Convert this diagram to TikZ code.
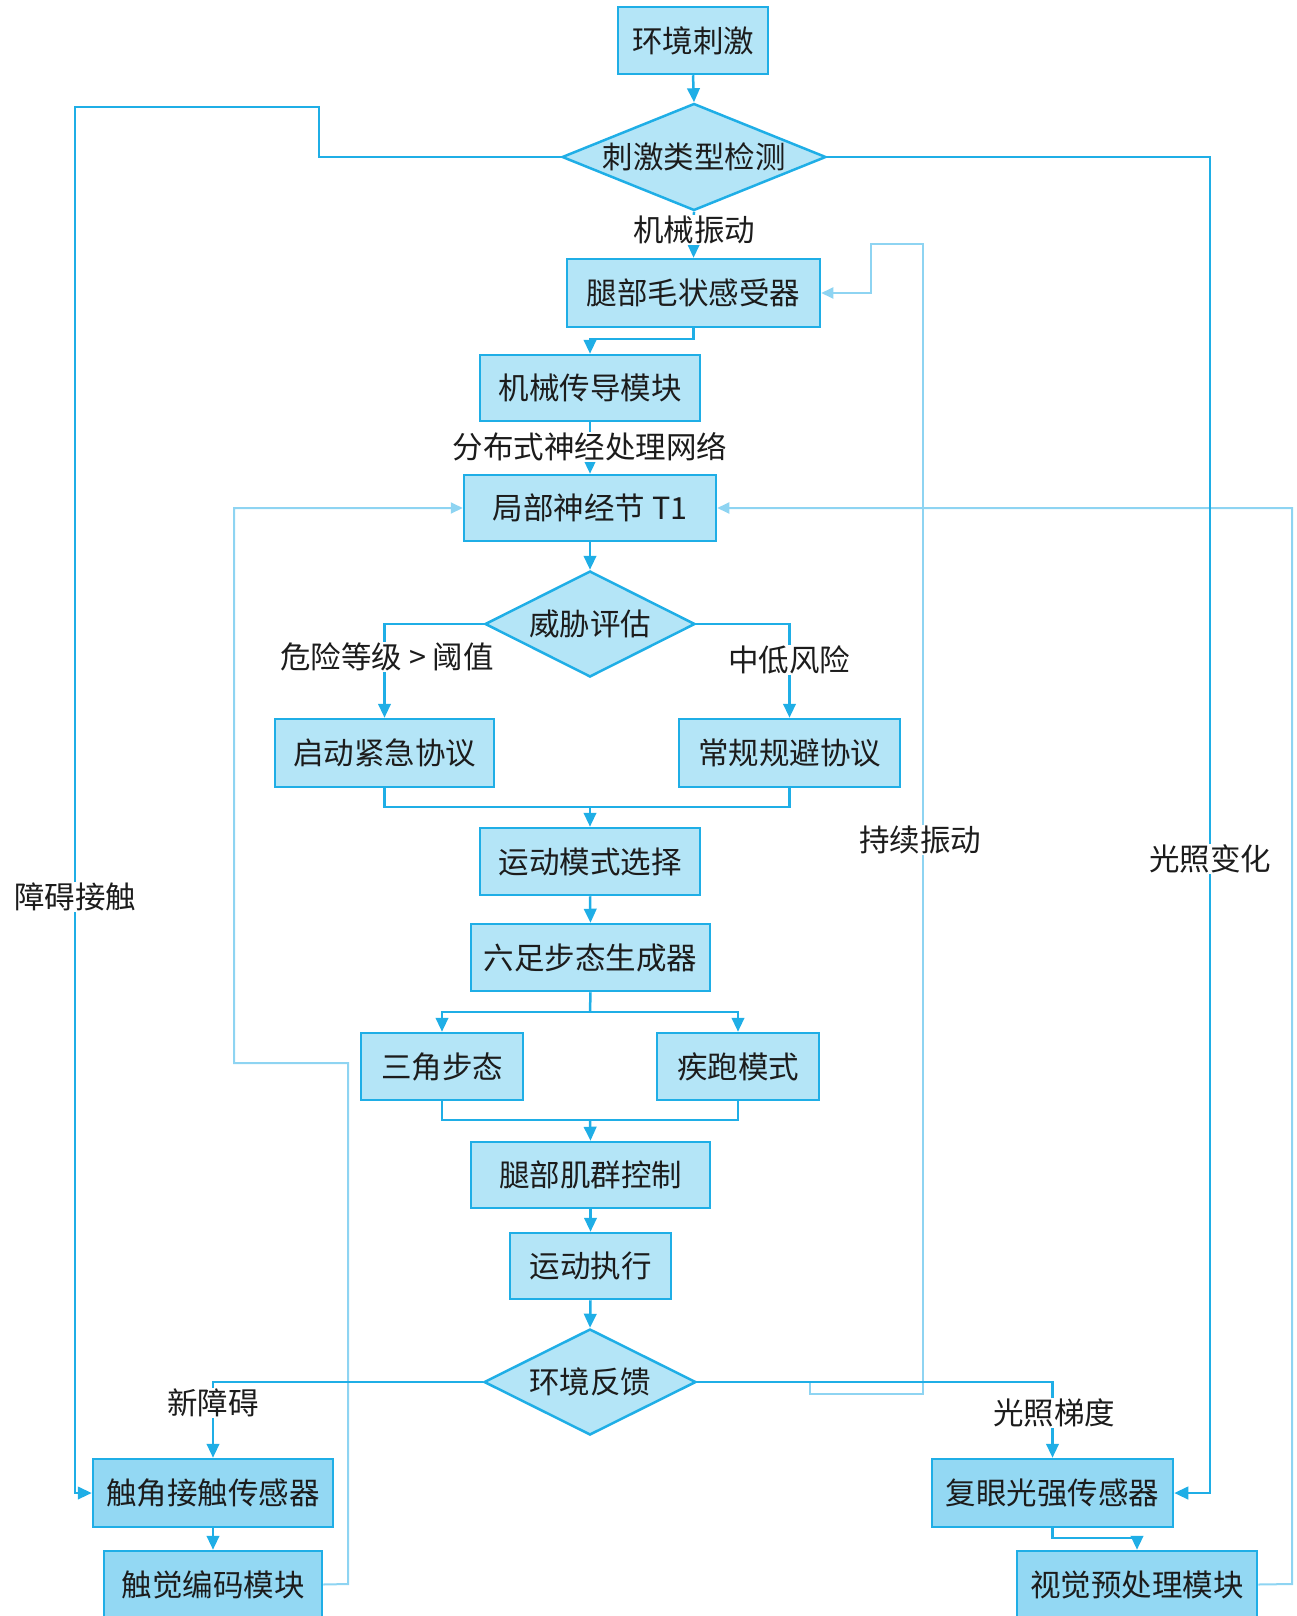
\documentclass[tikz,border=0pt]{standalone}
\usepackage{fontspec}
\setmainfont{Noto Sans CJK SC}
\usetikzlibrary{shapes.geometric,arrows.meta}
\definecolor{edge}{HTML}{1FAEE6}
\definecolor{boxfill}{HTML}{B4E5F7}
\definecolor{boxfilldeep}{HTML}{93D8F3}
\definecolor{thinline}{HTML}{8ED4F2}
\definecolor{ink}{HTML}{1C1C1C}

\begin{document}
\begin{tikzpicture}[x=1pt,y=-1pt,
  every node/.style={font=\fontsize{30.5}{36}\selectfont, text=ink},
  box/.style={rectangle, draw=edge, line width=2.5pt, fill=boxfill, inner sep=0pt, minimum height=67pt},
  deepbox/.style={box, fill=boxfilldeep},
  decision/.style={diamond, draw=edge, line width=2.5pt, fill=boxfill, inner sep=0pt},
  flow/.style={draw=edge, line width=2.5pt, -{Triangle[length=14pt,width=12.5pt]}},
  link/.style={draw=edge, line width=2.5pt},
  loop/.style={draw=thinline, line width=2pt, -{Triangle[length=12pt,width=11pt]}},
  tag/.style={fill=white, inner sep=1pt}
]
\useasboundingbox (0,0) rectangle (1296,1616);

% main chain
\node[box, minimum width=150pt] (env) at (693,40.5) {环境刺激};
\node[decision, shape aspect=2.47, minimum width=264pt, minimum height=107pt] (detect) at (694,157) {刺激类型检测};
\node[box, minimum width=253pt, minimum height=68pt] (hair) at (693.5,293) {腿部毛状感受器};
\node[box, minimum width=220pt, minimum height=66pt] (mech) at (590,388) {机械传导模块};
\node[box, minimum width=252pt, minimum height=66pt] (t1) at (590,508) {局部神经节 T1};
\node[decision, shape aspect=1.98, minimum width=210pt, minimum height=106pt] (threat) at (590,624) {威胁评估};
\node[box, minimum width=219pt, minimum height=68pt] (emerg) at (384.5,753) {启动紧急协议};
\node[box, minimum width=221pt, minimum height=68pt] (routine) at (789.5,753) {常规规避协议};
\node[box, minimum width=220pt] (modesel) at (590,861.5) {运动模式选择};
\node[box, minimum width=239pt] (hexgen) at (590.5,957.5) {六足步态生成器};
\node[box, minimum width=162pt] (tri) at (442,1066.5) {三角步态};
\node[box, minimum width=162pt] (sprint) at (738,1066.5) {疾跑模式};
\node[box, minimum width=239pt, minimum height=66pt] (muscle) at (590.5,1175) {腿部肌群控制};
\node[box, minimum width=161pt, minimum height=66pt] (exec) at (590.5,1266) {运动执行};
\node[decision, shape aspect=1.98, minimum width=212pt, minimum height=106pt] (feedback) at (590,1382) {环境反馈};

% sensor modules at the bottom
\node[deepbox, minimum width=240pt, minimum height=68pt] (antenna) at (213,1493) {触角接触传感器};
\node[deepbox, minimum width=218pt] (tactile) at (213,1584.5) {触觉编码模块};
\node[deepbox, minimum width=241pt, minimum height=68pt] (eye) at (1052.5,1493) {复眼光强传感器};
\node[deepbox, minimum width=240pt] (visual) at (1137,1584.5) {视觉预处理模块};

% junction points
\coordinate (tap) at (810,1382);
\coordinate (j1) at (590,807);
\coordinate (j2) at (590,1012);
\coordinate (j3) at (590,1120);

% thin feedback loops (drawn first, under the main lines)
\draw[loop] (tactile.east) -- (348,1584) -- (348,1063) -- (234,1063) |- (t1.west);
\draw[loop] (visual.east) -- (1292,1584) |- (t1.east);
\draw[loop] (tap) -- (810,1394) -- (923,1394) -- (923,244) -- (871,244) |- (hair.east);

% main connectors
\draw[flow] (env.south) -- (detect.north);
\draw[flow] (detect.west) -- (319,157) -- (319,107) -- (75,107) |- (antenna.west);
\draw[flow] (detect.east) -- (1210,157) |- (eye.east);
\draw[flow] (detect.south) -- (hair.north);
\draw[flow] (hair.south) -- (693.5,339) -| (mech.north);
\draw[flow] (mech.south) -- (t1.north);
\draw[flow] (t1.south) -- (threat.north);
\draw[flow] (threat.west) -| (emerg.north);
\draw[flow] (threat.east) -| (routine.north);
\draw[link] (emerg.south) -- (384.5,807) -| (routine.south);
\draw[flow] (j1) -- (modesel.north);
\draw[flow] (modesel.south) -- (hexgen.north);
\draw[link] (hexgen.south) -- (j2);
\draw[flow] (j2) -| (tri.north);
\draw[flow] (j2) -| (sprint.north);
\draw[link] (tri.south) -- (442,1120) -| (sprint.south);
\draw[flow] (j3) -- (muscle.north);
\draw[flow] (muscle.south) -- (exec.north);
\draw[flow] (exec.south) -- (feedback.north);
\draw[flow] (feedback.west) -| (antenna.north);
\draw[flow] (feedback.east) -| (eye.north);
\draw[flow] (antenna.south) -- (tactile.north);
\draw[flow] (eye.south) -- (1052.5,1538) -| (visual.north);

% connector labels
\node[tag] (lbvib) at (694,230) {机械振动};
\node[tag] (lbnet) at (590,447) {分布式神经处理网络};
\node[tag] (lbhigh) at (387,657) {危险等级 > 阈值};
\node[tag] (lblow) at (789,660) {中低风险};
\node[tag] (lbobst) at (75,897) {障碍接触};
\node[tag] (lblight) at (1210,859) {光照变化};
\node[tag] (lbkeep) at (920,840) {持续振动};
\node[tag] (lbnew) at (213,1403) {新障碍};
\node[tag] (lbgrad) at (1054,1413) {光照梯度};
\end{tikzpicture}
\end{document}
